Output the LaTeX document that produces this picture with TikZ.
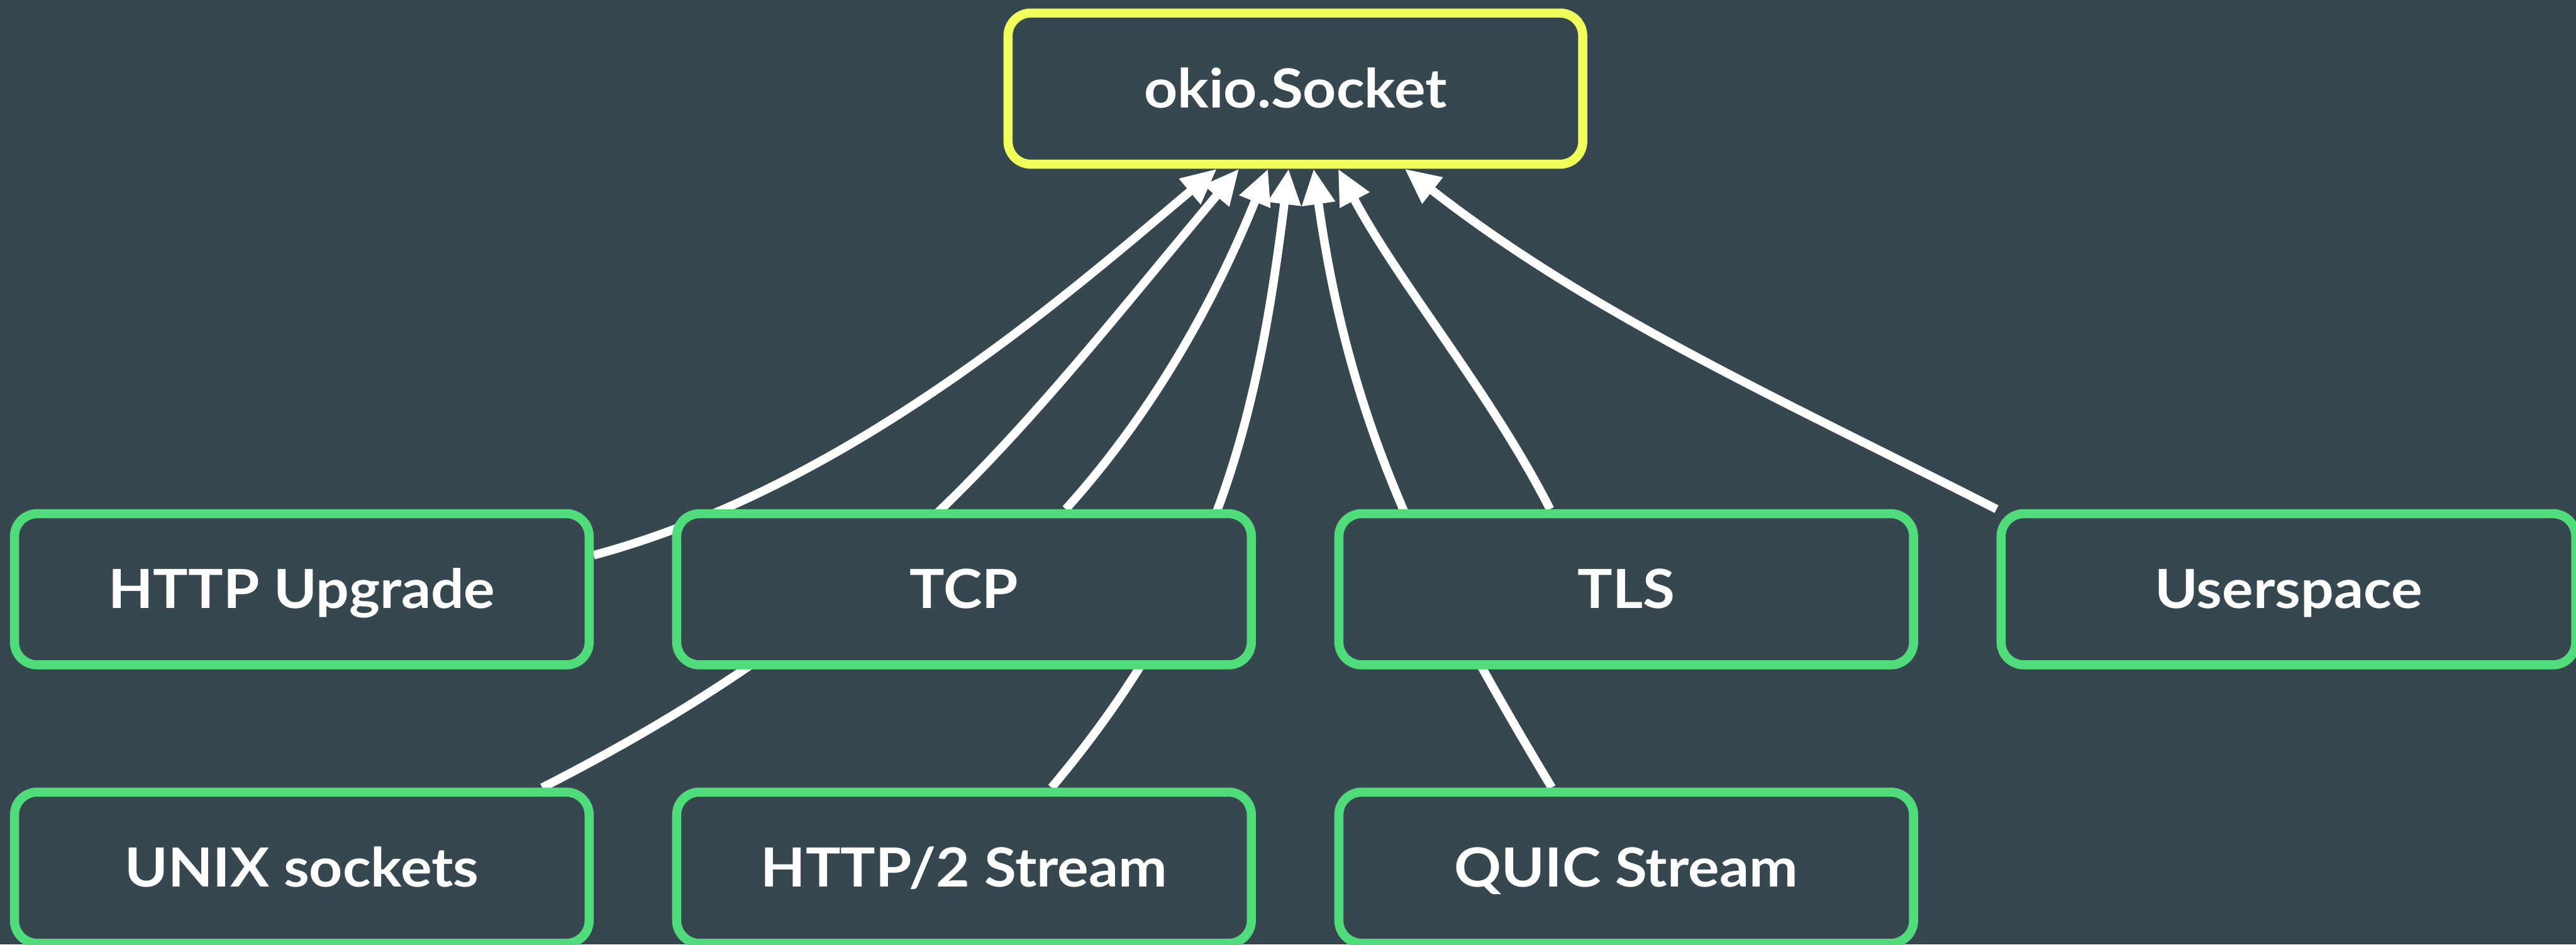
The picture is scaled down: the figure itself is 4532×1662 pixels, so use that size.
\documentclass[tikz,border=0pt]{standalone}
\usepackage{fontspec}
\setmainfont{Lato}[FakeStretch=1.08]
\usetikzlibrary{positioning,arrows.meta}
\definecolor{slate}{RGB}{55,71,79}
\definecolor{leafgreen}{RGB}{80,220,122}
\definecolor{rootyellow}{RGB}{240,255,90}
\pgfdeclarelayer{bg}
\pgfdeclarelayer{wires}
\pgfsetlayers{bg,wires,main}

\begin{document}
\begin{tikzpicture}[x=0.2pt, y=0.2pt, on grid, node distance=233pt,
    box/.style={draw, rounded corners=8pt, fill=slate, line width=3.2pt,
      minimum width=202.2pt, minimum height=53.2pt, text=white,
      font=\fontsize{19}{19}\selectfont\bfseries, text height=13.6pt, text depth=0pt},
    leaf/.style={box, draw=leafgreen},
    root/.style={box, draw=rootyellow},
    link/.style={white, line width=3pt, -{Triangle[length=12.5pt, width=11pt]}}]
  \useasboundingbox (0,0) rectangle (4532,1662);
  \begin{pgfonlayer}{bg}
    \fill[slate] (0,0) rectangle (4532,1662);
  \end{pgfonlayer}

  \node[root] (socket) at (2279,1506) {okio.Socket};
  \node[leaf] (tcp) at (1696,625) {TCP};
  \node[leaf, left=of tcp] (upgrade) {HTTP Upgrade};
  \node[leaf, right=of tcp] (tls) {TLS};
  \node[leaf, right=of tls] (userspace) {Userspace};
  \node[leaf, below=98pt of upgrade] (unix) {UNIX sockets};
  \node[leaf, below=98pt of tcp] (h2) {HTTP/2 Stream};
  \node[leaf, below=98pt of tls] (quic) {QUIC Stream};

  \begin{pgfonlayer}{wires}
    \draw[link] ([yshift=12pt]upgrade.east) .. controls +(15:470) and +(220:330) .. ([xshift=-27.6pt]socket.south);
    \draw[link] ([xshift=84.6pt]unix.north) .. controls +(27:700) and +(230:600) .. ([xshift=-19.8pt]socket.south);
    \draw[link] ([xshift=35.8pt]tcp.north) .. controls +(48:240) and +(248:240) .. ([xshift=-9.6pt]socket.south);
    \draw[link] ([xshift=30.8pt]h2.north) .. controls +(50:450) and +(263:450) .. ([xshift=-2.4pt]socket.south);
    \draw[link] ([xshift=-26.2pt]quic.north) .. controls +(121:450) and +(278:450) .. ([xshift=6.4pt]socket.south);
    \draw[link] ([xshift=-26.8pt]tls.north) .. controls +(117:230) and +(298:230) .. ([xshift=15pt]socket.south);
    \draw[link] (userspace.north west) .. controls +(153:420) and +(322:420) .. ([xshift=38.4pt]socket.south);
  \end{pgfonlayer}
\end{tikzpicture}
\end{document}
